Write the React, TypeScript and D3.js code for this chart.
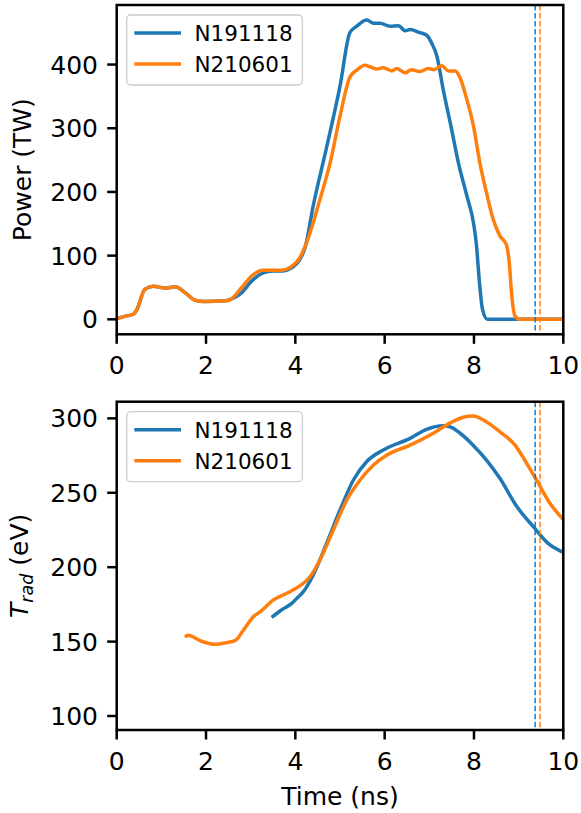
import React from "react";
import * as d3 from "d3";

// ---- data ----
const blueColor = "#1f77b4";
const orangeColor = "#ff7f0e";

const shotNames = ["N191118", "N210601"];
const shotColors = [blueColor, orangeColor];

// laser power (TW) vs time (ns)
const powerTime191118 = [0, 0.2, 0.37, 0.45, 0.63, 0.82, 1.08, 1.31, 1.53, 1.75, 1.97, 2.42, 2.6, 2.8, 3.02, 3.28, 3.5, 3.72, 3.9, 4.1, 4.22, 4.4, 4.7, 5.0, 5.22, 5.37, 5.6, 5.75, 5.9, 6.12, 6.31, 6.46, 6.57, 6.79, 6.94, 7.05, 7.17, 7.31, 7.5, 7.65, 7.84, 8.0, 8.05, 8.13, 8.19, 8.3, 8.4, 10];
const power191118 = [1, 5, 8, 15, 47, 52, 49, 51, 42, 30, 28, 29, 33, 42, 60, 73, 76, 76, 80, 94, 113, 178, 270, 366, 450, 460, 470, 465, 465, 460, 461, 453, 455, 450, 446, 434, 413, 361, 298, 246, 194, 147, 120, 52, 16, 0, 0, 0];

const powerTime210601 = [0, 0.2, 0.37, 0.45, 0.63, 0.82, 1.08, 1.31, 1.53, 1.75, 1.97, 2.42, 2.52, 2.8, 3.02, 3.28, 3.5, 3.69, 3.87, 4.1, 4.25, 4.55, 4.78, 5.0, 5.22, 5.37, 5.56, 5.82, 5.97, 6.16, 6.27, 6.46, 6.6, 6.79, 6.98, 7.1, 7.28, 7.43, 7.58, 7.69, 7.84, 7.99, 8.13, 8.28, 8.43, 8.58, 8.72, 8.79, 8.84, 8.92, 9.03, 10];
const power210601 = [1, 5, 8, 15, 47, 52, 49, 51, 42, 30, 28, 29, 30, 50, 68, 77, 77, 77, 81, 97, 120, 188, 246, 319, 380, 391, 399, 393, 395, 390, 394, 387, 392, 389, 394, 392, 398, 390, 390, 379, 345, 303, 246, 199, 157, 131, 118, 89, 42, 5, 0, 0];

// radiation temperature (eV) vs time (ns)
const tradTime191118 = [3.47, 3.69, 3.92, 4.07, 4.18, 4.4, 4.7, 5.0, 5.3, 5.6, 5.97, 6.57, 6.94, 7.31, 7.46, 7.69, 7.98, 8.28, 8.58, 8.96, 9.33, 9.66, 10];
const trad191118 = [166.3, 171.2, 175.7, 180.2, 183.6, 194.8, 216, 238.4, 258.6, 271, 278.8, 286.6, 292.6, 295, 294.4, 290, 282, 272, 259.7, 240.7, 227.2, 216, 210];

const tradTime210601 = [1.53, 1.6, 1.87, 2.2, 2.46, 2.65, 2.84, 3.06, 3.21, 3.51, 3.81, 4.1, 4.33, 4.55, 4.85, 5.15, 5.45, 5.75, 6.05, 6.57, 7.09, 7.46, 7.76, 7.98, 8.21, 8.58, 8.92, 9.18, 9.4, 9.7, 10];
const trad210601 = [152.9, 154.2, 150.6, 148.2, 149.3, 150.6, 157.8, 166.7, 170, 178, 182.5, 187.4, 193.6, 204.8, 225, 245, 258.6, 268.7, 275.4, 282, 290, 296.8, 300.8, 301.6, 298.9, 291, 282, 269.8, 258.6, 243, 232];

// bang times (dashed markers)
const bangTimes = [9.37, 9.48];

const xTicks = [0, 2, 4, 6, 8, 10];
const powerTicks = [0, 100, 200, 300, 400];
const tradTicks = [100, 150, 200, 250, 300];

// ---- layout ----
const W = 581;
const H = 813;
const axLeft = 116.7;
const axRight = 563.3;
const font = "DejaVu Sans, sans-serif";
const tickFont = 25;
const legendFont = 21.5;

const zip = (ts: number[], vs: number[]) => ts.map((t, i) => [t, vs[i]] as [number, number]);

const Panel = ({ id, top, bottom, yDomain, yTicks, series, yLabel }) => {
  const x = d3.scaleLinear().domain([0, 10]).range([axLeft, axRight]);
  const y = d3.scaleLinear().domain(yDomain).range([bottom, top]);
  const line = d3
    .line<[number, number]>()
    .x((d) => x(d[0]))
    .y((d) => y(d[1]))
    .curve(d3.curveMonotoneX);

  return (
    <g>
      <defs>
        <clipPath id={id}>
          <rect x={axLeft} y={top} width={axRight - axLeft} height={bottom - top} />
        </clipPath>
      </defs>
      <g clipPath={`url(#${id})`}>
        {series.map((s, i) => (
          <path key={i} d={line(s) || ""} fill="none" stroke={shotColors[i]} strokeWidth={3.5} strokeLinejoin="round" strokeLinecap="butt" />
        ))}
        {bangTimes.map((b, i) => (
          <line key={i} x1={x(b)} x2={x(b)} y1={top} y2={bottom} stroke={shotColors[i]} strokeWidth={1.5} strokeDasharray="5.5,2.5" />
        ))}
      </g>
      {/* frame */}
      <rect x={axLeft} y={top} width={axRight - axLeft} height={bottom - top} fill="none" stroke="black" strokeWidth={2.5} />
      {/* x ticks */}
      {xTicks.map((t) => (
        <g key={t}>
          <line x1={x(t)} x2={x(t)} y1={bottom} y2={bottom + 9.5} stroke="black" strokeWidth={2.5} />
          <text x={x(t)} y={bottom + 40} textAnchor="middle" fontSize={tickFont} fontFamily={font}>
            {t}
          </text>
        </g>
      ))}
      {/* y ticks */}
      {yTicks.map((t) => (
        <g key={t}>
          <line x1={axLeft - 9.5} x2={axLeft} y1={y(t)} y2={y(t)} stroke="black" strokeWidth={2.5} />
          <text x={98} y={y(t) + 9.1} textAnchor="end" fontSize={tickFont} fontFamily={font}>
            {t}
          </text>
        </g>
      ))}
      {yLabel}
      {/* legend */}
      <rect x={126.7} y={top + 10} width={175.6} height={70} rx={4} fill="white" fillOpacity={0.8} stroke="#cccccc" strokeWidth={1.3} />
      {shotNames.map((n, i) => (
        <g key={n}>
          <line x1={134.3} x2={181} y1={top + 28 + i * 31} y2={top + 28 + i * 31} stroke={shotColors[i]} strokeWidth={3.5} />
          <text x={194.5} y={top + 28 + i * 31 + 7.8} fontSize={legendFont} fontFamily={font}>
            {n}
          </text>
        </g>
      ))}
    </g>
  );
};

export default function App() {
  const topTop = 5;
  const topBottom = 334.3;
  const botTop = 401.7;
  const botBottom = 730;

  return (
    <svg width={W} height={H} style={{ position: "absolute", left: 0, top: 0 }}>
      <rect width={W} height={H} fill="white" />
      <Panel
        id="clipTop"
        top={topTop}
        bottom={topBottom}
        yDomain={[-23.5, 493.5]}
        yTicks={powerTicks}
        series={[zip(powerTime191118, power191118), zip(powerTime210601, power210601)]}
        yLabel={
          <text transform={`translate(31,${(topTop + topBottom) / 2}) rotate(-90)`} textAnchor="middle" fontSize={tickFont} fontFamily={font}>
            Power (TW)
          </text>
        }
      />
      <Panel
        id="clipBot"
        top={botTop}
        bottom={botBottom}
        yDomain={[90.6, 311.2]}
        yTicks={tradTicks}
        series={[zip(tradTime191118, trad191118), zip(tradTime210601, trad210601)]}
        yLabel={
          <text transform={`translate(28,${(botTop + botBottom) / 2}) rotate(-90)`} textAnchor="middle" fontSize={tickFont} fontFamily={font}>
            <tspan fontStyle="italic">T</tspan>
            <tspan fontStyle="italic" fontSize={17.5} dy={5}>rad</tspan>
            <tspan dy={-5}> (eV)</tspan>
          </text>
        }
      />
      <text x={(axLeft + axRight) / 2} y={805} textAnchor="middle" fontSize={tickFont} fontFamily={font}>
        Time (ns)
      </text>
    </svg>
  );
}
